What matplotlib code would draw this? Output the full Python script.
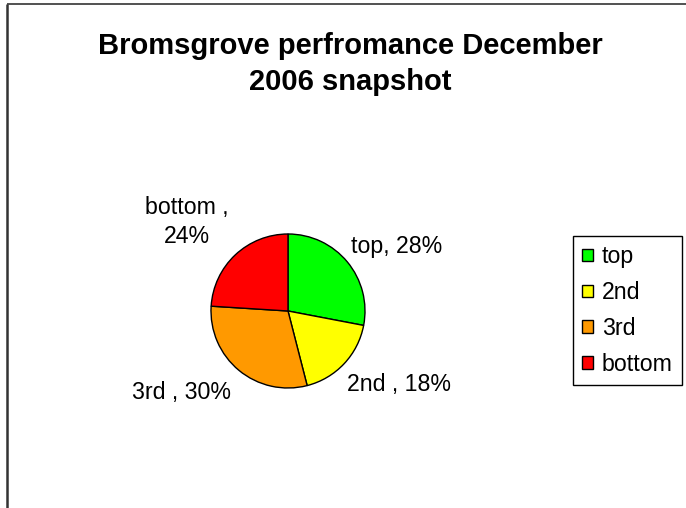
import matplotlib
matplotlib.use("Agg")
import matplotlib.pyplot as plt
from matplotlib.patches import Patch

categories = ["top", "2nd", "3rd", "bottom"]
values = [28, 18, 30, 24]
data_labels = ["top, 28%", "2nd , 18%", "3rd , 30%", "bottom ,\n24%"]
colors = ["#00FF00", "#FFFF00", "#FF9900", "#FF0000"]
title = "Bromsgrove perfromance December\n2006 snapshot"

plt.rcParams['font.family'] = ['Liberation Sans', 'DejaVu Sans']

W, H = 686, 508
fig = plt.figure(figsize=(W / 100, H / 100), dpi=100)
ax = fig.add_axes([0, 0, 1, 1])

cx, cy, r = 288, H - 311, 77
wedges, _ = ax.pie(values, colors=colors, startangle=90, counterclock=False,
                   center=(cx, cy), radius=r, frame=True,
                   wedgeprops=dict(edgecolor='black', linewidth=1.0))
ax.set_xlim(0, W)
ax.set_ylim(0, H)
ax.set_aspect('equal')
ax.axis('off')

label_pos = [(397, H - 246), (399, H - 385), (181, H - 392), (187, H - 222)]
for txt, (x, y) in zip(data_labels, label_pos):
    ax.text(x, y, txt, ha='center', va='center', fontsize=16.7, linespacing=1.35)

ax.text(350, H - 64, title, ha='center', va='center', fontsize=21,
        fontweight='bold', linespacing=1.32)

# chart area frame (left and top edges visible)
ax.plot([7, 7], [0, H - 4], color='#333333', lw=1.8, solid_capstyle='butt')
ax.plot([7, W], [H - 4, H - 4], color='#333333', lw=1.2, solid_capstyle='butt')

handles = [Patch(facecolor=c, edgecolor='black', linewidth=1.0) for c in colors]
leg = ax.legend(handles, categories, loc='upper left',
                bbox_to_anchor=(573 / W, 1 - 236 / H), bbox_transform=fig.transFigure,
                fontsize=16.7, frameon=True, fancybox=False, framealpha=1,
                edgecolor='black', handlelength=0.45, handleheight=0.45,
                handletextpad=0.4, labelspacing=0.55, borderpad=0.4,
                borderaxespad=0)
leg.get_frame().set_linewidth(1.0)

fig.savefig("out.png", dpi=100)
